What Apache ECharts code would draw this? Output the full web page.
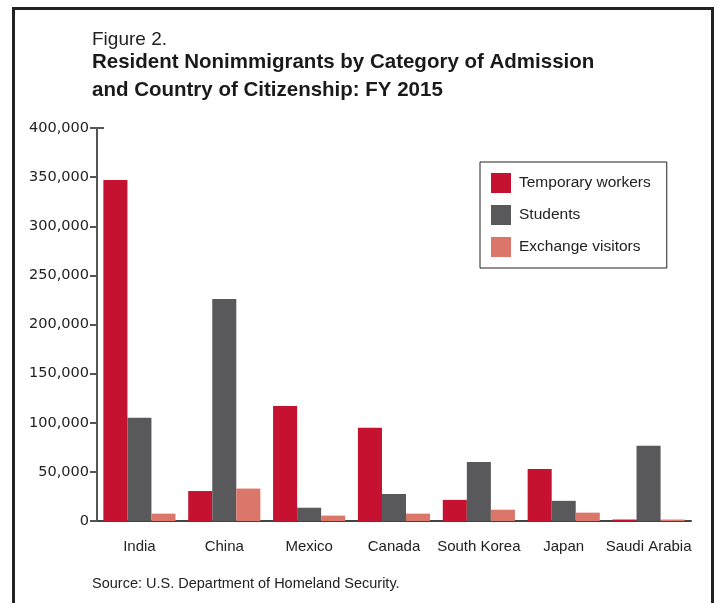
<!DOCTYPE html>
<html>
<head>
<meta charset="utf-8">
<script src="https://cdn.jsdelivr.net/npm/echarts@6/dist/echarts.min.js"></script>
<style>
html,body{margin:0;padding:0;background:#fff;}
#chart{width:717px;height:603px;}
</style>
</head>
<body>
<div id="chart"></div>
<script>
const categories = ["India","China","Mexico","Canada","South Korea","Japan","Saudi Arabia"];
const temporaryWorkers = [347000, 30500, 117000, 95000, 21500, 53000, 1500];
const students = [105000, 226000, 13500, 27500, 60000, 20500, 76500];
const exchangeVisitors = [7500, 33000, 5500, 7500, 11500, 8500, 1500];
const seriesNames = ["Temporary workers","Students","Exchange visitors"];
const yTicks = [0,50000,100000,150000,200000,250000,300000,350000,400000];

const textFont = "'Liberation Sans', Arial, sans-serif";
const chart = echarts.init(document.getElementById('chart'), null, {renderer:'canvas'});
const colors = ['#C41230','#59595B','#DA766A'];

chart.setOption({
  animation:false,
  backgroundColor:'#fff',
  title:[
    {text:'Figure 2.', left:92, top:30, padding:0, textStyle:{fontFamily:textFont, fontSize:19, fontWeight:'normal', color:'#222', lineHeight:19}},
    {text:'Resident Nonimmigrants by Category of Admission\nand Country of Citizenship: FY 2015', left:92, top:48, padding:0,
     textStyle:{fontFamily:textFont, fontSize:20.5, fontWeight:'bold', color:'#1a1a1a', lineHeight:28}},
    {text:'Source: U.S. Department of Homeland Security.', left:92, top:576, padding:0, textStyle:{fontFamily:textFont, fontSize:14.5, fontWeight:'normal', color:'#222'}}
  ],
  legend:{
    orient:'vertical', left:480, top:162,
    itemWidth:20, itemHeight:20, itemGap:12,
    padding:[11,16,11,11],
    borderColor:'#222', borderWidth:1,
    icon:'rect',
    data:seriesNames,
    textStyle:{fontFamily:textFont, fontSize:15.5, color:'#222', padding:[2,0,0,3]}
  },
  grid:{left:97, right:26, top:128, bottom:82},
  xAxis:{
    type:'category', data:categories,
    axisLine:{lineStyle:{color:'#444', width:2}},
    axisTick:{show:false},
    axisLabel:{fontFamily:textFont, fontSize:15, color:'#222', margin:18, interval:0}
  },
  yAxis:{
    type:'value', min:0, max:400000, interval:50000,
    axisLine:{show:true, lineStyle:{color:'#555', width:2}},
    axisTick:{show:true, length:7, lineStyle:{color:'#555', width:2}},
    splitLine:{show:false},
    axisLabel:{fontFamily:"'DejaVu Sans', sans-serif", fontSize:14.5, color:'#222', margin:8,
      formatter:v=>yTicks.includes(v)?v.toLocaleString('en-US'):''}
  },
  series:[
    {name:seriesNames[0], type:'bar', data:temporaryWorkers, itemStyle:{color:colors[0]}, barGap:'0%', barCategoryGap:'15%'},
    {name:seriesNames[1], type:'bar', data:students, itemStyle:{color:colors[1]}, barGap:'0%', barCategoryGap:'15%'},
    {name:seriesNames[2], type:'bar', data:exchangeVisitors, itemStyle:{color:colors[2]}, barGap:'0%', barCategoryGap:'15%'}
  ]
});

const axisTopY = chart.convertToPixel({yAxisIndex:0}, 400000);
chart.setOption({
  graphic:[
    {type:'rect', shape:{x:13.5, y:8.5, width:699, height:640}, style:{fill:null, stroke:'#222', lineWidth:3}, silent:true},
    {type:'line', shape:{x1:96, y1:axisTopY, x2:104, y2:axisTopY}, style:{stroke:'#555', lineWidth:2}, silent:true}
  ]
});
</script>
</body>
</html>
